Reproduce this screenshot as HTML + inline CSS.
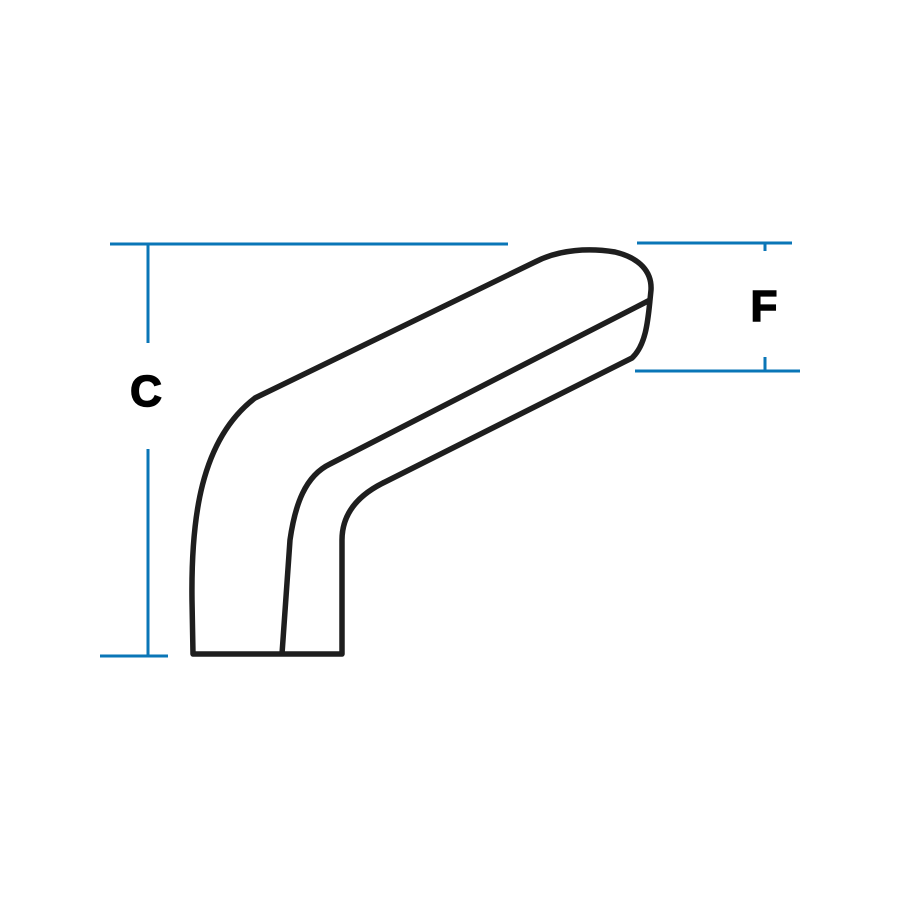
<!DOCTYPE html>
<html><head><meta charset="utf-8"><style>
html,body{margin:0;padding:0;background:#fff;width:900px;height:900px;overflow:hidden}
</style></head><body>
<svg width="900" height="900" viewBox="0 0 900 900" xmlns="http://www.w3.org/2000/svg">
<g stroke="#0a76b7" stroke-width="3" fill="none">
<line x1="110" y1="244" x2="508" y2="244"/>
<line x1="148" y1="244" x2="148" y2="343"/>
<line x1="148" y1="449" x2="148" y2="656"/>
<line x1="100" y1="656" x2="168" y2="656"/>
<line x1="637" y1="243" x2="792" y2="243"/>
<line x1="765" y1="243" x2="765" y2="251"/>
<line x1="635" y1="371" x2="800" y2="371"/>
<line x1="765" y1="357" x2="765" y2="371"/>
</g>
<g stroke="#1e1e1e" stroke-width="5.5" fill="none" stroke-linejoin="round">
<path d="M193,654 L192,600 C191,520 200,440 255,398 L535,262 C560,249 590,248 615,252 C640,258 652,272 651,290 L650,300 C648,320 646,345 632,358 L385,482 C360,494 342,512 342,540 L342,654 Z"/>
<path d="M650,300 L330,464 C305,476 295,505 290,540 L282,654"/>
</g>
<text x="146" y="406" font-family="Liberation Sans, sans-serif" font-weight="bold" font-size="44" text-anchor="middle" fill="#000" stroke="#000" stroke-width="1.5">C</text>
<text x="764" y="321" font-family="Liberation Sans, sans-serif" font-weight="bold" font-size="44" text-anchor="middle" fill="#000" stroke="#000" stroke-width="1.5">F</text>
</svg>
</body></html>
